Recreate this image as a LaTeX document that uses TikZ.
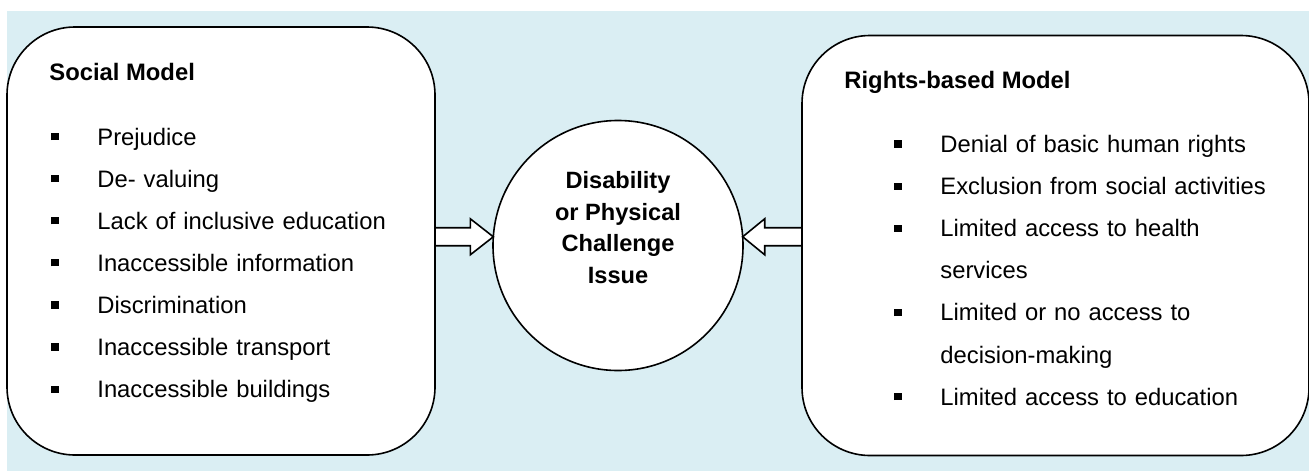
\documentclass[tikz,border=0pt]{standalone}
\usepackage{fontspec}
\setmainfont{Liberation Sans}
\usetikzlibrary{chains,scopes,positioning}
\definecolor{paleblue}{RGB}{218,238,243}
\newcommand{\sqbullet}{\makebox[23pt][l]{\rule[2.45pt]{3.6pt}{3.6pt}}}
\newcommand{\sqindent}{\hspace*{23pt}}

\begin{document}
\begin{tikzpicture}[x=0.5pt,y=-0.5pt,
model/.style={
	% The shape:
	rectangle,rounded corners=34pt,outer sep=0pt,
	% The border:
	line width=0.8pt,draw=black,
	% The filling:
	fill=white},
hub/.style={
	% The shape:
	circle,minimum size=125pt,inner sep=0pt,outer sep=0pt,
	% The border and filling:
	line width=0.8pt,draw=black,fill=white},
hubtext/.style={align=center,inner sep=0pt,
	font=\bfseries\fontsize{11.8pt}{15.75pt}\selectfont},
heading/.style={inner sep=0pt,font=\bfseries\fontsize{11.9pt}{14pt}\selectfont},
item/.style={
	% one printed line of a list
	inner sep=0pt,text height=13pt,text depth=7.65pt,
	align=left,font=\fontsize{11.9pt}{14pt}\selectfont},
socitem/.style={item,text width=185pt},
rightsitem/.style={item,text width=200pt},
blockarrow/.style={line width=0.8pt,draw=black,fill=white,line join=miter},
node distance=29pt]

\useasboundingbox (0,0) rectangle (1309,471);
\fill[paleblue] (7,11) rectangle (1309,471);

% the two models and the issue between them
\node (issue) [hub] at (618,245.5) {};
\node (social) [model,minimum width=214pt,minimum height=214pt,left=of issue,yshift=2.25pt] {};
\node (rights) [model,minimum width=253.5pt,minimum height=210pt,right=29.5pt of issue] {};

\node (issuetext) [hubtext] at ([yshift=9pt]issue.center) {Disability\\or Physical\\Challenge\\Issue};

% Social model list
\node (soctitle) [heading,anchor=base west] at ([shift={(42,53)}]social.north west) {Social Model};
{ [start chain=soclist going below,node distance=0pt]
\node (s1) [socitem,on chain,anchor=base west] at ([shift={(44,118)}]social.north west) {\sqbullet Prejudice};
\node (s2) [socitem,on chain] {\sqbullet De- valuing};
\node (s3) [socitem,on chain] {\sqbullet Lack of inclusive education};
\node (s4) [socitem,on chain] {\sqbullet Inaccessible information};
\node (s5) [socitem,on chain] {\sqbullet Discrimination};
\node (s6) [socitem,on chain] {\sqbullet Inaccessible transport};
\node (s7) [socitem,on chain] {\sqbullet Inaccessible buildings};
}

% Rights-based model list
\node (rtitle) [heading,anchor=base west] at ([shift={(42,53)}]rights.north west) {Rights-based Model};
{ [start chain=rightslist going below,node distance=0pt]
\node (r1) [rightsitem,on chain,anchor=base west] at ([shift={(92,117)}]rights.north west) {\sqbullet Denial of basic human rights};
\node (r2) [rightsitem,on chain] {\sqbullet Exclusion from social activities};
\node (r3) [rightsitem,on chain] {\sqbullet Limited access to health};
\node (r4) [rightsitem,on chain] {\sqindent services};
\node (r5) [rightsitem,on chain] {\sqbullet Limited or no access to};
\node (r6) [rightsitem,on chain] {\sqindent decision-making};
\node (r7) [rightsitem,on chain] {\sqbullet Limited access to education};
}

% block arrows into the issue
\coordinate (ltip) at (issue.176);
\coordinate (rtip) at (issue.4);
\path (ltip) ++(-23,9) coordinate (lneckb) ++(0,-18) coordinate (lneckt);
\path (rtip) ++(22,9) coordinate (rneckb) ++(0,-18) coordinate (rneckt);
\draw[blockarrow] (ltip) -- ++(-23,18) -- (lneckb) -- (lneckb -| social.east)
	-- (lneckt -| social.east) -- (lneckt) -- ++(0,-9) -- cycle;
\draw[blockarrow] (rtip) -- ++(22,18) -- (rneckb) -- (rneckb -| rights.west)
	-- (rneckt -| rights.west) -- (rneckt) -- ++(0,-9) -- cycle;

\end{tikzpicture}
\end{document}
